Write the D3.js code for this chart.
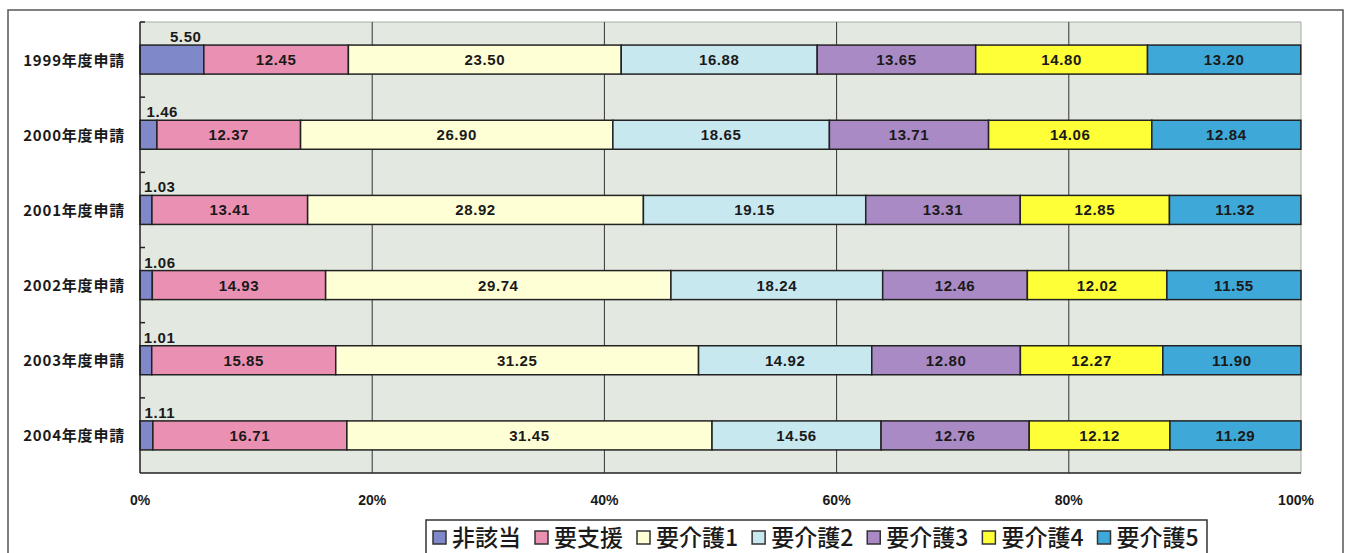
<!DOCTYPE html>
<html>
<head>
<meta charset="utf-8">
<script src="https://cdn.jsdelivr.net/npm/d3@7"></script>
<style>
  html, body { margin: 0; padding: 0; background: #ffffff; }
  svg { display: block; }
</style>
</head>
<body>
<svg id="chart" width="1348" height="553"></svg>
<script>
// Application years (rows, top to bottom)
const categories = ["1999年度申請", "2000年度申請", "2001年度申請", "2002年度申請", "2003年度申請", "2004年度申請"];

// Care-level groups (stack order, left to right)
const seriesNames = ["非該当", "要支援", "要介護1", "要介護2", "要介護3", "要介護4", "要介護5"];

// Share (%) per group, one value per year
const hiGaitou   = [5.50, 1.46, 1.03, 1.06, 1.01, 1.11];
const youShien   = [12.45, 12.37, 13.41, 14.93, 15.85, 16.71];
const youKaigo1  = [23.50, 26.90, 28.92, 29.74, 31.25, 31.45];
const youKaigo2  = [16.88, 18.65, 19.15, 18.24, 14.92, 14.56];
const youKaigo3  = [13.65, 13.71, 13.31, 12.46, 12.80, 12.76];
const youKaigo4  = [14.80, 14.06, 12.85, 12.02, 12.27, 12.12];
const youKaigo5  = [13.20, 12.84, 11.32, 11.55, 11.90, 11.29];

const xTicks = [0, 20, 40, 60, 80, 100];
const xTickLabels = ["0%", "20%", "40%", "60%", "80%", "100%"];

const colors = ["#7f88c8", "#ea90b2", "#ffffd6", "#c8e8f0", "#a98ac4", "#ffff38", "#3ea8d8"];

const seriesValues = [hiGaitou, youShien, youKaigo1, youKaigo2, youKaigo3, youKaigo4, youKaigo5];
const table = categories.map((c, i) => {
  const row = { cat: c };
  seriesNames.forEach((s, j) => row[s] = seriesValues[j][i]);
  return row;
});
const stacked = d3.stack().keys(seriesNames)(table);

const svg = d3.select("#chart");
const numFont = "'Liberation Sans Narrow', 'Liberation Sans', Arial, sans-serif";
const cjkFont = "'Noto Sans CJK JP', 'Noto Sans', sans-serif";

// Outer frame
svg.append("path")
  .attr("d", "M8,560 L8,10 L1343,10 L1343,560")
  .attr("fill", "none").attr("stroke", "#555").attr("stroke-width", 1.5);

const plot = { left: 140, right: 1301, top: 22, bottom: 473 };

const x = d3.scaleLinear().domain([0, 100]).range([plot.left, plot.right]);
const y = d3.scaleBand().domain(categories).range([plot.top, plot.bottom])
  .paddingInner(0.614).paddingOuter(0.307);

// Plot background
svg.append("rect")
  .attr("x", plot.left).attr("y", plot.top)
  .attr("width", plot.right - plot.left).attr("height", plot.bottom - plot.top)
  .attr("fill", "#e3e8e0");

// Top / right edges (light)
svg.append("path")
  .attr("d", `M${plot.left},${plot.top} L${plot.right},${plot.top} L${plot.right},${plot.bottom}`)
  .attr("fill", "none").attr("stroke", "#a8aca6").attr("stroke-width", 1);

// Vertical gridlines
svg.append("g").selectAll("line")
  .data(xTicks.filter(t => t > 0 && t < 100))
  .join("line")
  .attr("x1", d => x(d)).attr("x2", d => x(d))
  .attr("y1", plot.top).attr("y2", plot.bottom)
  .attr("stroke", "#333").attr("stroke-width", 1);

// Bars
const groups = svg.append("g").selectAll("g")
  .data(stacked)
  .join("g")
  .attr("fill", (d, i) => colors[i]);

groups.selectAll("rect")
  .data(d => d)
  .join("rect")
  .attr("x", d => x(d[0]))
  .attr("y", d => y(d.data.cat))
  .attr("width", d => x(d[1]) - x(d[0]))
  .attr("height", y.bandwidth())
  .attr("stroke", "#222").attr("stroke-width", 1.5);

// Value labels
stacked.forEach((layer, j) => {
  svg.append("g").selectAll("text")
    .data(layer)
    .join("text")
    .attr("x", d => j === 0 ? (x(d[0]) + x(d[1])) / 2 - 2 : (x(d[0]) + x(d[1])) / 2)
    .attr("y", d => j === 0 ? y(d.data.cat) - 3 : y(d.data.cat) + y.bandwidth() / 2 + 5.5)
    .attr("text-anchor", j === 0 ? "start" : "middle")
    .attr("font-family", numFont)
    .attr("font-weight", "bold")
    .attr("font-size", 15)
    .attr("letter-spacing", 0.6)
    .attr("fill", "#1a1a1a")
    .text(d => (d[1] - d[0]).toFixed(2));
});

// Left and bottom axis lines
svg.append("line")
  .attr("x1", plot.left).attr("x2", plot.left)
  .attr("y1", plot.top).attr("y2", plot.bottom)
  .attr("stroke", "#222").attr("stroke-width", 1.5);
svg.append("line")
  .attr("x1", plot.left).attr("x2", plot.right)
  .attr("y1", plot.bottom).attr("y2", plot.bottom)
  .attr("stroke", "#222").attr("stroke-width", 1.5);

// Category boundary ticks on the left axis
const step = y.step();
const bounds = d3.range(categories.length).map(i => plot.top + i * step);
svg.append("g").selectAll("line")
  .data(bounds)
  .join("line")
  .attr("x1", plot.left).attr("x2", plot.left + 5)
  .attr("y1", d => d).attr("y2", d => d)
  .attr("stroke", "#222").attr("stroke-width", 1.5);

// Category labels
svg.append("g").selectAll("text")
  .data(categories)
  .join("text")
  .attr("x", 125)
  .attr("y", d => y(d) + y.bandwidth() / 2 + 6)
  .attr("text-anchor", "end")
  .attr("font-family", cjkFont)
  .attr("font-weight", "bold")
  .attr("font-size", 15)
  .attr("letter-spacing", 0.8)
  .attr("fill", "#1a1a1a")
  .text(d => d);

// X tick labels
svg.append("g").selectAll("text")
  .data(xTicks)
  .join("text")
  .attr("x", d => x(d) - (d === 100 ? 5 : 0))
  .attr("y", 505)
  .attr("text-anchor", "middle")
  .attr("font-family", numFont)
  .attr("font-weight", "bold")
  .attr("font-size", 14)
  .attr("fill", "#1a1a1a")
  .text((d, i) => xTickLabels[i]);

// Legend
const legend = { left: 426, right: 1207, top: 520 };
svg.append("path")
  .attr("d", `M${legend.left},560 L${legend.left},${legend.top} L${legend.right},${legend.top} L${legend.right},560`)
  .attr("fill", "#fff").attr("stroke", "#333").attr("stroke-width", 1.5);

const lg = svg.append("g");
let cursor = legend.left + 7;
seriesNames.forEach((name, i) => {
  const item = lg.append("g");
  item.append("rect")
    .attr("x", cursor).attr("y", 531)
    .attr("width", 13).attr("height", 13)
    .attr("fill", colors[i]).attr("stroke", "#333").attr("stroke-width", 1.5);
  const t = item.append("text")
    .attr("x", cursor + 19).attr("y", 546)
    .attr("font-family", cjkFont)
    .attr("font-weight", 500)
    .attr("font-size", 23)
    .attr("fill", "#1a1a1a")
    .text(name);
  cursor += 19 + t.node().getComputedTextLength() + 14;
});
</script>
</body>
</html>
